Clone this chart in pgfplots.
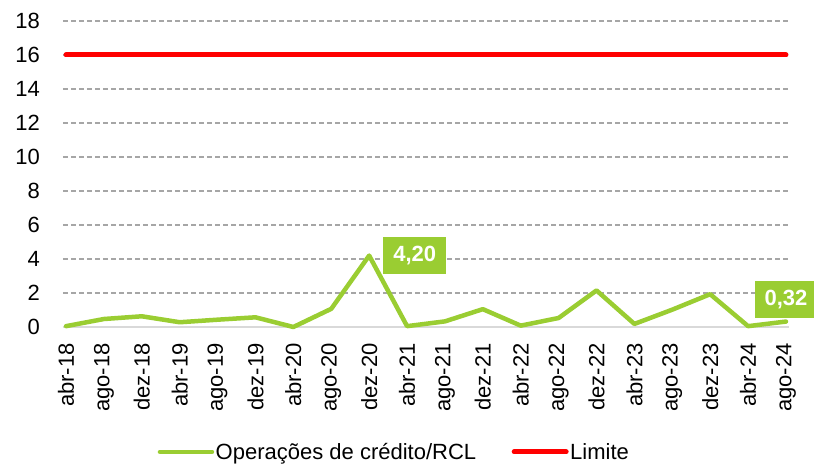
\documentclass[border=0pt]{standalone}
\usepackage{pgfplots}
\pgfplotsset{compat=1.18}
\usepackage{fontspec}
\setmainfont{Liberation Sans}
\definecolor{lgreen}{RGB}{154,205,50}
\definecolor{gridgray}{RGB}{166,166,166}
\definecolor{axgray}{RGB}{217,217,217}
\definecolor{lred}{RGB}{255,0,0}
\begin{document}
\begin{tikzpicture}
\begin{axis}[
 scale only axis, width=726bp, height=306bp,
 xmin=-0.08, xmax=19.08, ymin=0, ymax=18,
 axis line style={draw=none},
 font=\fontsize{22bp}{26bp}\selectfont,
 /pgf/number format/assume math mode=true,
 xtick={0,...,19},
 xticklabels={abr-18,ago-18,dez-18,abr-19,ago-19,dez-19,abr-20,ago-20,dez-20,abr-21,ago-21,dez-21,abr-22,ago-22,dez-22,abr-23,ago-23,dez-23,abr-24,ago-24},
 xticklabel style={rotate=90, anchor=east, inner sep=0pt},
 xticklabel shift=16bp,
 ytick={2,4,...,18},
 extra y ticks={0},
 extra y tick style={grid style={solid, draw=axgray, line width=1.5bp}},
 yticklabel style={anchor=east, inner sep=0pt},
 yticklabel shift=23bp,
 major tick length=0pt,
 tick style={draw=none},
 ymajorgrids,
 grid style={draw=gridgray, line width=1.2bp, dash pattern=on 5bp off 3bp},
 clip=false,
 legend style={at={(axis description cs:0.456,-0.408)}, anchor=center, draw=none, fill=none,
   /tikz/every even column/.append style={column sep=34bp},
   nodes={inner sep=1.5bp}},
 legend columns=2,
 legend cell align=left,
 legend image code/.code={\draw[#1] (0bp,0bp) -- (52bp,0bp);},
]
\addplot[color=lgreen, line width=4.5bp, mark=none, line join=round, line cap=round] table[row sep=\\] {
x y \\
0 0.05 \\
1 0.47 \\
2 0.63 \\
3 0.28 \\
4 0.43 \\
5 0.57 \\
6 0.0 \\
7 1.07 \\
8 4.20 \\
9 0.05 \\
10 0.33 \\
11 1.05 \\
12 0.08 \\
13 0.53 \\
14 2.15 \\
15 0.18 \\
16 1.02 \\
17 1.93 \\
18 0.05 \\
19 0.32 \\
};
\addlegendentry{Operações de crédito/RCL}
\addplot[color=lred, line width=5bp, mark=none, line cap=round] table[row sep=\\] {
x y \\
0 16 \\
19 16 \\
};
\addlegendentry{Limite}
\addplot[forget plot, draw=none, mark=none, nodes near coords, point meta=explicit symbolic,
  nodes near coords style={fill=lgreen, text=white, font=\bfseries\fontsize{22bp}{26bp}\selectfont,
  inner xsep=10bp, inner ysep=0pt, minimum height=37bp, anchor=west, xshift=14bp}]
  table[row sep=\\, meta=lab] {
x y lab \\
8 4.20 4,20 \\
};
\addplot[forget plot, draw=none, mark=none, nodes near coords, point meta=explicit symbolic,
  nodes near coords style={fill=lgreen, text=white, font=\bfseries\fontsize{22bp}{26bp}\selectfont,
  inner xsep=10bp, inner ysep=0pt, minimum height=37bp, anchor=south, yshift=3bp}]
  table[row sep=\\, meta=lab] {
x y lab \\
19 0.32 0,32 \\
};
\end{axis}
\pgfresetboundingbox
\path[use as bounding box] (-63bp,-137bp) rectangle (751bp,327bp);
\end{tikzpicture}
\end{document}
